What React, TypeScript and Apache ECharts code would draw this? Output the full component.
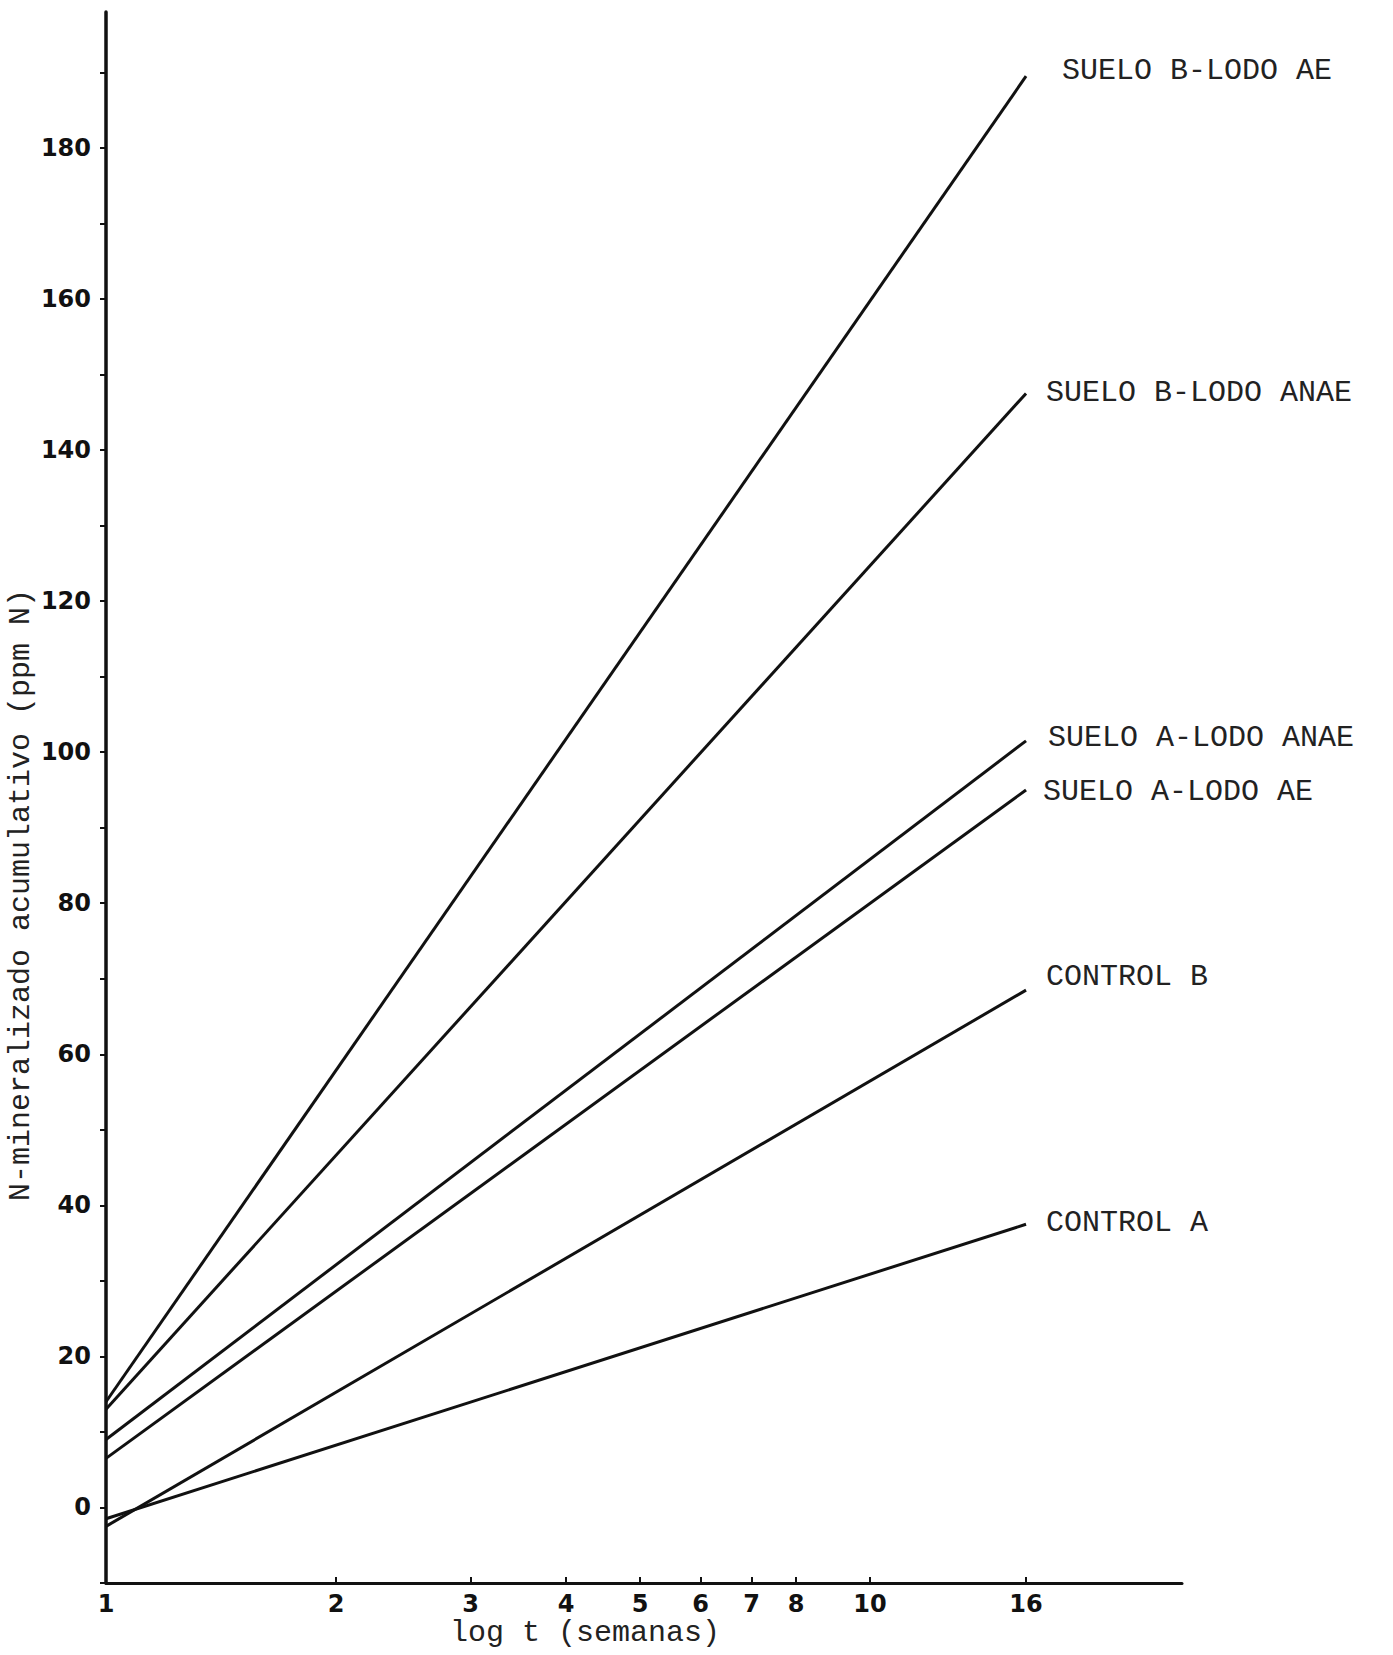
import React, { useEffect, useRef } from "react";
import * as echarts from "echarts";

// Incubation time (weeks) at the ends of each fitted line
const WEEKS = [1, 16];

// Cumulative mineralized N (ppm N) at 1 and 16 weeks
const SUELO_B_LODO_AE = [14, 189.5];
const SUELO_B_LODO_ANAE = [13, 147.5];
const SUELO_A_LODO_ANAE = [9, 101.5];
const SUELO_A_LODO_AE = [6.5, 95];
const CONTROL_B = [-2.5, 68.5];
const CONTROL_A = [-1.5, 37.5];

const SERIES_NAMES = [
  "SUELO B-LODO AE",
  "SUELO B-LODO ANAE",
  "SUELO A-LODO ANAE",
  "SUELO A-LODO AE",
  "CONTROL B",
  "CONTROL A",
];
const SERIES_VALUES = [
  SUELO_B_LODO_AE,
  SUELO_B_LODO_ANAE,
  SUELO_A_LODO_ANAE,
  SUELO_A_LODO_AE,
  CONTROL_B,
  CONTROL_A,
];
// small nudges so each end label sits where the typed caption was placed
const LABEL_OFFSETS: number[][] = [
  [16, -5],
  [0, 0],
  [2, -3],
  [-3, 2],
  [0, -13],
  [0, -1],
];

// log-time axis ticks
const X_TICK_WEEKS = [1, 2, 3, 4, 5, 6, 7, 8, 10, 16];
const X_MAX_WEEKS = 25.6;
// y axis ticks / labels
const Y_TICKS = [-10, 0, 10, 20, 30, 40, 50, 60, 70, 80, 90, 100, 110, 120, 130, 140, 150, 160, 170, 180, 190];
const Y_LABELS = [0, 20, 40, 60, 80, 100, 120, 140, 160, 180];

const X_TITLE = "log t (semanas)";
const Y_TITLE = "N-mineralizado acumulativo (ppm N)";

const TYPE_FONT = "'Liberation Mono', 'DejaVu Sans Mono', monospace";
const NUM_FONT = "'DejaVu Sans', sans-serif";

export default function App() {
  const ref = useRef<HTMLDivElement>(null);

  useEffect(() => {
    if (!ref.current) return;
    const chart = echarts.init(ref.current, undefined, { renderer: "svg" });

    const series = SERIES_NAMES.map((name, i) => ({
      name,
      type: "line",
      symbol: "none",
      data: WEEKS.map((w, j) => [Math.log10(w), SERIES_VALUES[i][j]]),
      lineStyle: { color: "#111", width: 3 },
      endLabel: {
        show: true,
        formatter: "{a}",
        fontFamily: TYPE_FONT,
        fontSize: 30,
        color: "#222",
        distance: 20,
        offset: LABEL_OFFSETS[i],
      },
      silent: true,
    }));

    chart.setOption({
      animation: false,
      backgroundColor: "#fff",
      grid: { left: 106, top: 12, width: 1076, height: 1571 },
      xAxis: {
        type: "value",
        min: 0,
        max: Math.log10(X_MAX_WEEKS),
        axisLine: { show: true, onZero: false, lineStyle: { color: "#111", width: 3 } },
        axisTick: {
          show: true,
          inside: true,
          length: 6,
          lineStyle: { color: "#111", width: 2 },
          customValues: X_TICK_WEEKS.slice(1).map((w) => Math.log10(w)),
        },
        axisLabel: {
          customValues: X_TICK_WEEKS.map((w) => Math.log10(w)),
          formatter: (v: number) => String(Math.round(Math.pow(10, v))),
          fontFamily: NUM_FONT,
          fontWeight: "bold",
          fontSize: 24,
          color: "#111",
          margin: 9,
        },
        splitLine: { show: false },
      },
      yAxis: {
        type: "value",
        min: -10,
        max: 198,
        interval: 10,
        axisLine: { show: true, onZero: false, lineStyle: { color: "#111", width: 3.5 } },
        axisTick: {
          show: true,
          length: 6,
          lineStyle: { color: "#111", width: 2 },
          customValues: Y_TICKS,
        },
        axisLabel: {
          customValues: Y_LABELS,
          fontFamily: NUM_FONT,
          fontWeight: "bold",
          fontSize: 24,
          color: "#111",
          margin: 15,
        },
        splitLine: { show: false },
      },
      graphic: [
        {
          type: "text",
          x: 585,
          y: 1633,
          style: {
            text: X_TITLE,
            font: `30px ${TYPE_FONT}`,
            fill: "#222",
            align: "center",
            verticalAlign: "middle",
          },
        },
        {
          type: "text",
          x: 21,
          y: 895,
          rotation: Math.PI / 2,
          style: {
            text: Y_TITLE,
            font: `30px ${TYPE_FONT}`,
            fill: "#222",
            align: "center",
            verticalAlign: "middle",
          },
        },
      ],
      series,
    });

    return () => chart.dispose();
  }, []);

  return (
    <div
      ref={ref}
      style={{ position: "absolute", left: 0, top: 0, width: 1393, height: 1655 }}
    />
  );
}
